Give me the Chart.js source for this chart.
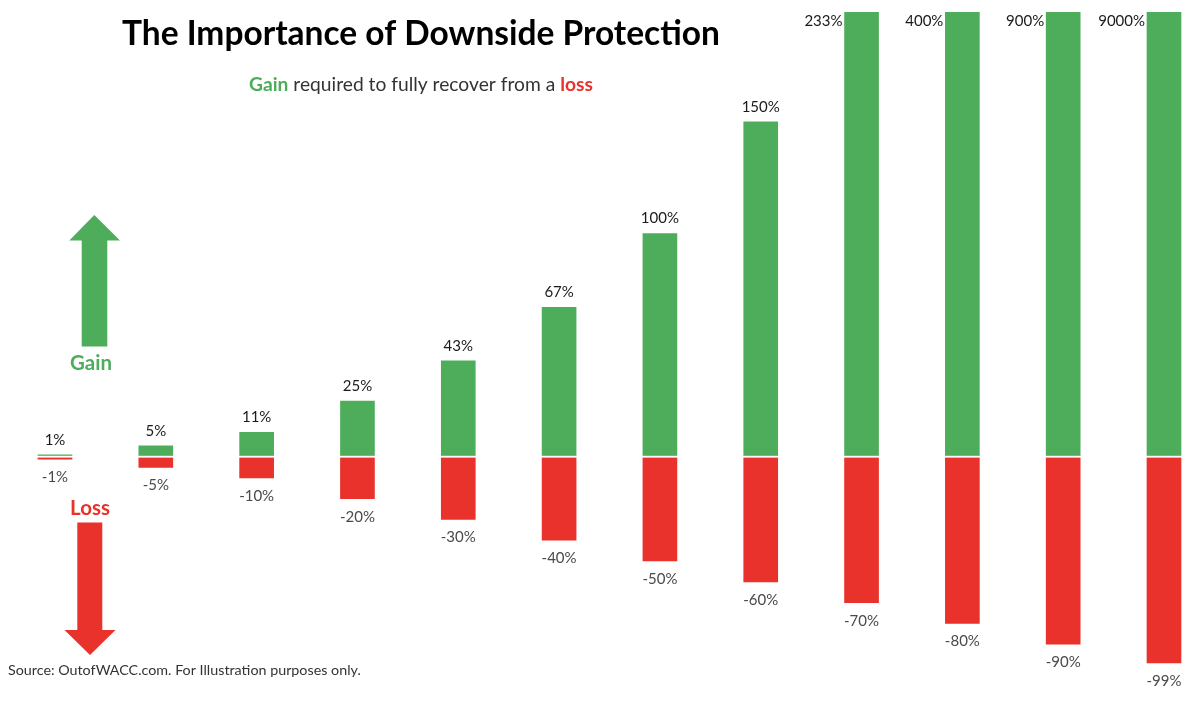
<!DOCTYPE html>
<html>
<head>
<meta charset="utf-8">
<script src="https://cdn.jsdelivr.net/npm/chart.js@4.4.1/dist/chart.umd.min.js"></script>
<style>
  html, body { margin: 0; padding: 0; background: #ffffff; }
  #wrap { width: 1200px; height: 705px; position: relative; }
</style>
</head>
<body>
<div id="wrap"><canvas id="c" width="1200" height="705"></canvas></div>
<script>
// ---- data ----
const categories = ['-1%', '-5%', '-10%', '-20%', '-30%', '-40%', '-50%', '-60%', '-70%', '-80%', '-90%', '-99%'];
const gainValues = [1, 5, 11, 25, 43, 67, 100, 150, 233, 400, 900, 9000];
const lossValues = [-1, -5, -10, -20, -30, -40, -50, -60, -70, -80, -90, -99];
const gainLabels = gainValues.map(v => v + '%');
const lossLabels = lossValues.map(v => v + '%');

const GREEN = '#4EAD5B';
const RED = '#E8322B';
const FONT = 'Lato, "Open Sans", "DejaVu Sans", sans-serif';

function fitFont(ctx, text, weight, target, startSize) {
  ctx.font = weight + ' ' + startSize + 'px ' + FONT;
  const w = ctx.measureText(text).width;
  const size = startSize * target / w;
  ctx.font = weight + ' ' + size + 'px ' + FONT;
  return size;
}

const decorPlugin = {
  id: 'decor',
  afterDatasetsDraw(chart) {
    const ctx = chart.ctx;
    const area = chart.chartArea;
    const ys = chart.scales.y;
    const y0 = ys.getPixelForValue(0);
    const gMeta = chart.getDatasetMeta(0);
    const lMeta = chart.getDatasetMeta(1);
    ctx.save();
    // white separation at zero line
    ctx.fillStyle = '#ffffff';
    ctx.fillRect(0, y0 - 1.2, chart.width, 1.8);

    // value labels
    ctx.font = '15px ' + FONT;
    gMeta.data.forEach((bar, i) => {
      ctx.fillStyle = '#1a1a1a';
      ctx.textBaseline = 'alphabetic';
      if (bar.y < area.top) {
        ctx.textAlign = 'right';
        ctx.fillText(gainLabels[i], bar.x - bar.width / 2 - 2, area.top + 14);
      } else {
        ctx.textAlign = 'center';
        ctx.fillText(gainLabels[i], bar.x, bar.y - 10);
      }
    });
    lMeta.data.forEach((bar, i) => {
      ctx.fillStyle = '#4a4a4a';
      ctx.textAlign = 'center';
      ctx.textBaseline = 'alphabetic';
      ctx.fillText(lossLabels[i], bar.x, bar.y + 23);
    });
    ctx.restore();
  },
  afterDraw(chart) {
    const ctx = chart.ctx;
    ctx.save();
    ctx.textBaseline = 'alphabetic';
    ctx.textAlign = 'left';

    // title
    const title = 'The Importance of Downside Protection';
    ctx.fillStyle = '#000000';
    fitFont(ctx, title, 'bold', 598, 32);
    ctx.fillText(title, 122, 45);

    // subtitle (mixed colours)
    const parts = [
      { t: 'Gain', c: GREEN, w: 'bold' },
      { t: ' required to fully recover from a ', c: '#333333', w: 'normal' },
      { t: 'loss', c: RED, w: 'bold' }
    ];
    let size = 19;
    let total = 0;
    parts.forEach(p => { ctx.font = p.w + ' ' + size + 'px ' + FONT; total += ctx.measureText(p.t).width; });
    size = size * 344 / total;
    let x = 249;
    parts.forEach(p => {
      ctx.font = p.w + ' ' + size + 'px ' + FONT;
      ctx.fillStyle = p.c;
      ctx.fillText(p.t, x, 90.5);
      x += ctx.measureText(p.t).width;
    });

    // source
    ctx.fillStyle = '#333333';
    const src = 'Source: OutofWACC.com. For Illustration purposes only.';
    fitFont(ctx, src, 'normal', 353, 14);
    ctx.fillText(src, 8, 675);

    // green arrow
    ctx.fillStyle = GREEN;
    ctx.beginPath();
    ctx.moveTo(94.3, 215);
    ctx.lineTo(120, 240.5);
    ctx.lineTo(107.3, 240.5);
    ctx.lineTo(107.3, 346.5);
    ctx.lineTo(81.7, 346.5);
    ctx.lineTo(81.7, 240.5);
    ctx.lineTo(69.3, 240.5);
    ctx.closePath();
    ctx.fill();

    // red arrow
    ctx.fillStyle = RED;
    ctx.beginPath();
    ctx.moveTo(77.3, 522.5);
    ctx.lineTo(102.3, 522.5);
    ctx.lineTo(102.3, 630);
    ctx.lineTo(115.5, 630);
    ctx.lineTo(90, 655);
    ctx.lineTo(64.5, 630);
    ctx.lineTo(77.3, 630);
    ctx.closePath();
    ctx.fill();

    // Gain / Loss words
    ctx.fillStyle = GREEN;
    fitFont(ctx, 'Gain', 'bold', 42, 19);
    ctx.fillText('Gain', 70, 370);
    ctx.fillStyle = RED;
    fitFont(ctx, 'Loss', 'bold', 40, 19);
    ctx.fillText('Loss', 70, 515);

    ctx.restore();
  }
};

const ctx = document.getElementById('c').getContext('2d');
new Chart(ctx, {
  type: 'bar',
  data: {
    labels: categories,
    datasets: [
      {
        label: 'Gain',
        data: gainValues,
        backgroundColor: GREEN,
        yAxisID: 'y',
        grouped: false,
        barThickness: 34,
        clip: { left: 40, right: 40, top: 0, bottom: 40 }
      },
      {
        label: 'Loss',
        data: lossValues,
        backgroundColor: RED,
        yAxisID: 'y2',
        grouped: false,
        barThickness: 34,
        clip: { left: 40, right: 40, top: 0, bottom: 40 }
      }
    ]
  },
  options: {
    responsive: false,
    animation: false,
    layout: { padding: { left: 55, right: 36, top: 12, bottom: 15 } },
    plugins: { legend: { display: false }, tooltip: { enabled: false }, title: { display: false } },
    scales: {
      x: { display: false, offset: false, grid: { display: false } },
      y: { display: false, min: -104.25, max: 199.1 },
      y2: { display: false, min: -112.0, max: 213.9 }
    }
  },
  plugins: [decorPlugin]
});
</script>
</body>
</html>
